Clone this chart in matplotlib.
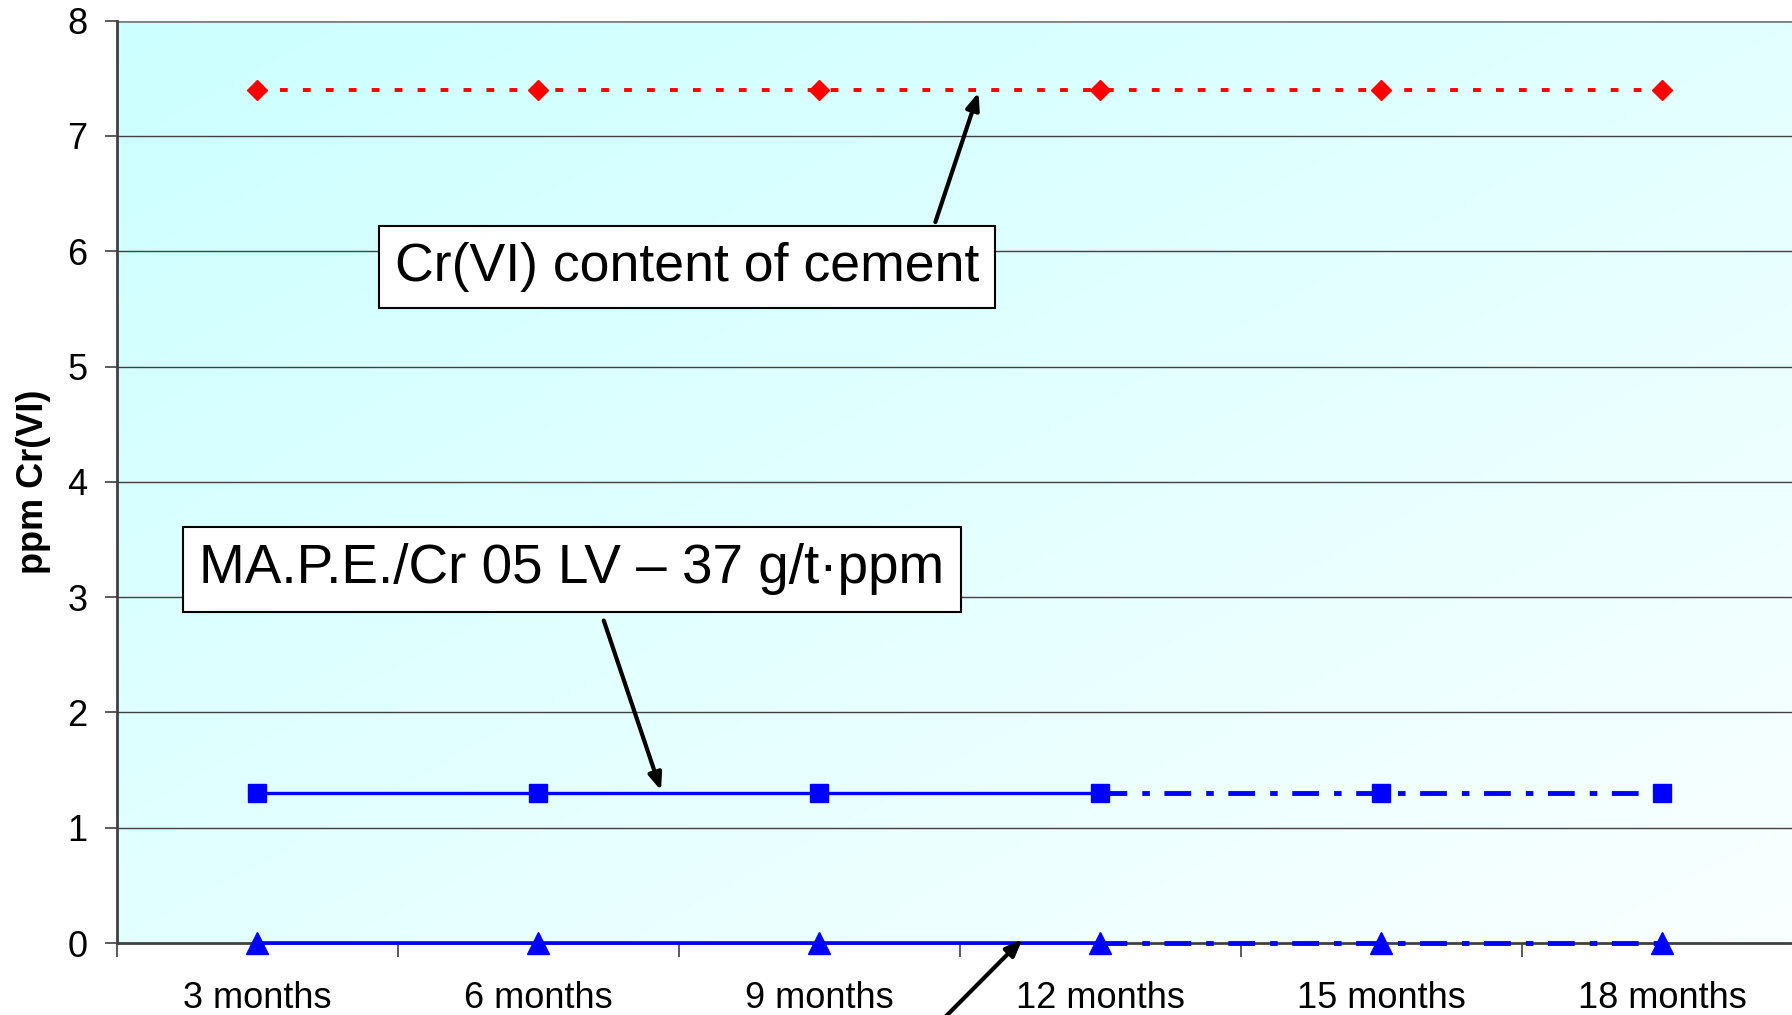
import numpy as np
import matplotlib.pyplot as plt
from matplotlib.colors import LinearSegmentedColormap

plt.rcParams['font.family'] = ['Liberation Sans', 'DejaVu Sans']

# data
periods = ['3 months', '6 months', '9 months', '12 months', '15 months', '18 months']
cement_cr6 = [7.4, 7.4, 7.4, 7.4, 7.4, 7.4]
mape_cr6 = [1.3, 1.3, 1.3, 1.3, 1.3, 1.3]
treated_cr6 = [0.0, 0.0, 0.0, 0.0, 0.0, 0.0]
n_measured = 4  # first 4 points solid, rest projected (dash-dot)

fig = plt.figure(figsize=(17.92, 10.15), dpi=100)
ax = fig.add_axes([0.0651, 0.0709, 0.941, 0.9088])

x = np.arange(len(periods))

# background gradient, cyan top-left to near white bottom-right
gx, gy = np.meshgrid(np.linspace(0, 1, 200), np.linspace(0, 1, 200))
grad = (gx + gy) / 2
cmap = LinearSegmentedColormap.from_list('bg', ['#CCFFFF', '#FAFFFF'])
ax.imshow(grad, cmap=cmap, extent=[-0.5, 5.5, 0, 8], origin='upper',
          aspect='auto', zorder=0)

ax.set_xlim(-0.5, 5.5)
ax.set_ylim(0, 8)

# gridlines
for yv in range(1, 8):
    ax.axhline(yv, color='#404040', lw=1.0, zorder=1)
ax.axhline(8, color='#808080', lw=2.0, zorder=1)

dashdot = (0, (5.5, 3.1, 1.55, 3.0))
blue = '#0000FF'

# red: Cr(VI) of cement
ax.plot(x, cement_cr6, color='#FF0000', lw=2.8, linestyle=(0, (2.0, 3.9)),
        marker='D', ms=10.5, mec='#FF0000', mfc='#FF0000', zorder=4)

# blue squares
m = n_measured
ax.plot(x[:m], mape_cr6[:m], color=blue, lw=2.4, zorder=3)
ax.plot(x[m - 1:], mape_cr6[m - 1:], color=blue, lw=3.5, linestyle=dashdot, zorder=3)
ax.plot(x, mape_cr6, linestyle='none', marker='s', ms=13.5, color=blue, zorder=4)

# blue triangles
ax.plot(x[:m], treated_cr6[:m], color=blue, lw=2.6, zorder=3, clip_on=False)
ax.plot(x[m - 1:], treated_cr6[m - 1:], color=blue, lw=3.5, linestyle=dashdot,
        zorder=3, clip_on=False)
ax.plot(x, treated_cr6, linestyle='none', marker='^', ms=15.5, color=blue,
        zorder=4, clip_on=False)

# axes styling
for s in ['top', 'right']:
    ax.spines[s].set_visible(False)
ax.spines['left'].set_color('#404040')
ax.spines['left'].set_linewidth(2)
ax.spines['bottom'].set_color('#404040')
ax.spines['bottom'].set_linewidth(2)
ax.spines['bottom'].set_zorder(2)

ax.set_yticks(range(0, 9))
ax.tick_params(axis='y', length=9, width=1.2, color='#404040', labelsize=26, pad=12)
ax.set_xticks(np.arange(-0.5, 6.0, 1.0))
ax.set_xticklabels([])
ax.set_xticks(x, minor=True)
ax.set_xticklabels(periods, minor=True)
ax.tick_params(axis='x', which='major', length=10, width=1.2, color='#404040')
ax.tick_params(axis='x', which='minor', length=0, labelsize=26, pad=27)

ax.set_ylabel('ppm Cr(VI)', fontsize=26, fontweight='bold', labelpad=12)

# annotations
box = dict(boxstyle='square,pad=0.3', fc='white', ec='black', lw=1.5)
arrow = dict(arrowstyle='-|>,head_length=1.0,head_width=0.4', color='black', lw=3)

ax.annotate('', xy=(2.57, 7.4), xytext=(2.41, 6.23), arrowprops=arrow, zorder=5)
ax.text(1.53, 5.86, 'Cr(VI) content of cement', fontsize=38.6, ha='center', va='center',
        bbox=box, zorder=6)

ax.annotate('', xy=(1.44, 1.3), xytext=(1.23, 2.82), arrowprops=arrow, zorder=5)
ax.text(1.12, 3.24, 'MA.P.E./Cr 05 LV \u2013 37 g/t\u00b7ppm', fontsize=39.5, ha='center',
        va='center', bbox=box, zorder=6)

ax.annotate('', xy=(2.73, 0.05), xytext=(2.20, -1.25), arrowprops=arrow, zorder=5,
            annotation_clip=False)

fig.savefig('out.png', dpi=100)
